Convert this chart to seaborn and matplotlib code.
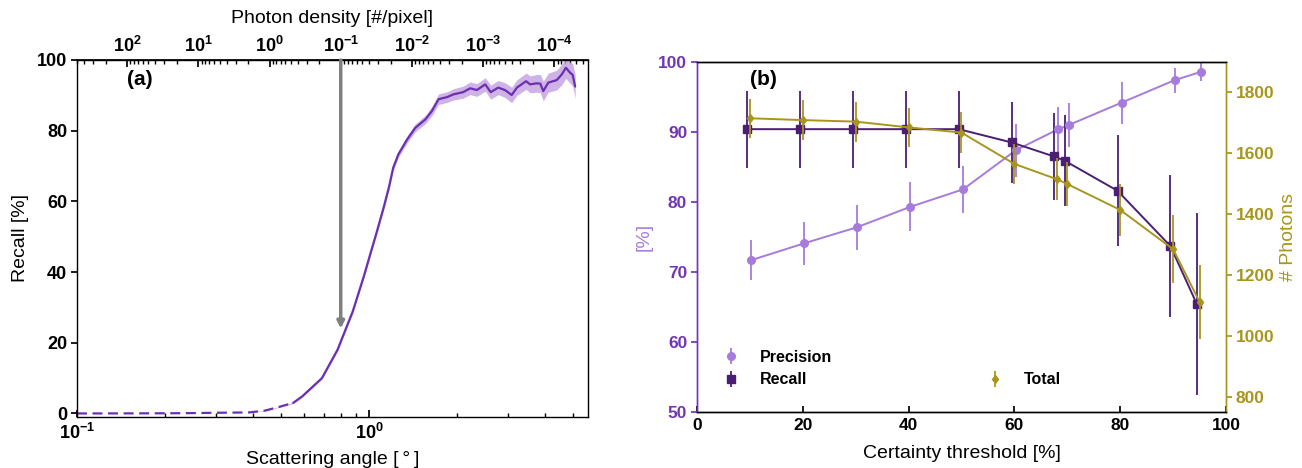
import numpy as np
import pandas as pd
import matplotlib
matplotlib.use("Agg")
import matplotlib.pyplot as plt
import seaborn as sns

# ---------------- data: panel (a) ----------------
angle = [0.10, 0.15, 0.20, 0.25, 0.30, 0.35, 0.39, 0.44, 0.49, 0.55, 0.59, 0.69, 0.78,
         0.88, 0.96, 1.02, 1.06, 1.12, 1.17, 1.21, 1.26, 1.35, 1.44, 1.56, 1.64, 1.73,
         1.85, 1.95, 2.10, 2.22, 2.34, 2.50, 2.61, 2.77, 2.92, 3.08, 3.21, 3.45, 3.56,
         3.75, 3.86, 3.95, 4.11, 4.39, 4.57, 4.72, 4.88, 4.98, 5.08]
recall_a = [0.0, 0.02, 0.05, 0.1, 0.2, 0.25, 0.3, 0.8, 1.8, 3.0, 4.8, 10.0, 18.0,
            28.9, 38.8, 46.3, 51.0, 58.0, 64.0, 69.5, 73.3, 77.5, 80.8, 83.2, 85.5, 88.9,
            89.5, 90.3, 90.9, 92.0, 91.5, 93.1, 90.9, 92.2, 91.5, 90.1, 92.2, 94.0, 93.1,
            93.4, 93.3, 91.2, 93.6, 94.3, 95.9, 97.8, 96.4, 95.8, 92.5]
recall_a_err = [0.0, 0.0, 0.0, 0.0, 0.0, 0.0, 0.0, 0.1, 0.1, 0.2, 0.2, 0.3, 0.4,
                0.5, 0.5, 0.6, 0.6, 0.7, 0.8, 0.8, 0.9, 1.0, 1.1, 1.2, 1.3, 1.5,
                1.5, 1.6, 1.7, 1.8, 1.8, 1.9, 2.0, 2.0, 2.1, 2.2, 2.2, 2.3, 2.4,
                2.5, 2.6, 2.8, 2.7, 2.8, 2.9, 3.0, 3.0, 3.2, 3.4]
dash_end = 0.55

# ---------------- data: panel (b) ----------------
threshold = [10, 20, 30, 40, 50, 60, 68, 70, 80, 90, 95]
precision = [71.7, 74.1, 76.4, 79.3, 81.8, 87.4, 90.4, 91.0, 94.2, 97.4, 98.6]
precision_err = [2.9, 3.1, 3.2, 3.5, 3.4, 3.8, 3.2, 3.2, 3.0, 1.8, 1.3]
recall_b = [90.4, 90.4, 90.4, 90.4, 90.4, 88.5, 86.5, 85.9, 81.6, 73.7, 65.4]
recall_b_err = [5.5, 5.5, 5.5, 5.5, 5.5, 5.8, 6.2, 6.5, 7.9, 10.2, 13.0]
total = [1715, 1709, 1704, 1685, 1668, 1565, 1515, 1499, 1414, 1285, 1112]
total_err = [64, 65, 66, 65, 67, 66, 70, 72, 85, 112, 122]

# ---------------- style ----------------
sns.set_theme(style="ticks")
plt.rcParams['font.family'] = ['Liberation Sans', 'DejaVu Sans']
plt.rcParams['mathtext.fontset'] = 'custom'
plt.rcParams['mathtext.rm'] = 'Liberation Sans:bold'
plt.rcParams['mathtext.bf'] = 'Liberation Sans:bold'
plt.rcParams['mathtext.it'] = 'Liberation Sans:bold'
plt.rcParams['mathtext.default'] = 'rm'
for k in ('text.color', 'axes.labelcolor', 'xtick.color', 'ytick.color', 'axes.edgecolor'):
    plt.rcParams[k] = 'black'

C_CURVE = '#6b2fb3'
C_BAND = '#c7a6e3'
C_PREC = '#a67bdc'
C_REC = '#4b1e74'
C_TOT = '#a8961c'
C_AX = '#7236b3'

TICK_A = 13
TICK_B = 12.5
LAB_FS = 14

fig = plt.figure(figsize=(13.02, 4.68), dpi=100)

# ---------------- panel (a) ----------------
ax1 = fig.add_axes([0.0591, 0.1090, 0.3925, 0.7628])
dfa = pd.DataFrame({'angle': angle, 'recall': recall_a, 'err': recall_a_err})
lo = dfa[dfa['angle'] <= dash_end]
hi = dfa[dfa['angle'] >= dash_end]
ax1.fill_between(dfa['angle'], dfa['recall'] - dfa['err'], dfa['recall'] + dfa['err'],
                 color=C_BAND, alpha=0.85, lw=0)
sns.lineplot(data=lo, x='angle', y='recall', ax=ax1, color=C_CURVE, lw=1.6,
             linestyle=(0, (4.5, 2.5)), errorbar=None)
sns.lineplot(data=hi, x='angle', y='recall', ax=ax1, color=C_CURVE, lw=1.6, errorbar=None)
ax1.set_xscale('log')
ax1.set_xlim(0.1, 5.62)
ax1.set_ylim(-1, 100)
ax1.set_yticks([0, 20, 40, 60, 80, 100])
ax1.set_xlabel('Scattering angle [\u2009°\u2009]', fontsize=LAB_FS, labelpad=6)
ax1.set_ylabel('Recall [%]', fontsize=LAB_FS, labelpad=6)
ax1.tick_params(axis='x', which='both', direction='in', labelsize=TICK_A, pad=4)
ax1.tick_params(axis='x', which='major', length=5)
ax1.tick_params(axis='x', which='minor', length=3)
ax1.tick_params(axis='y', direction='out', length=4, labelsize=TICK_A, pad=3)
for lab in ax1.get_xticklabels() + ax1.get_yticklabels():
    lab.set_fontweight('bold')
for s in ax1.spines.values():
    s.set_color('black'); s.set_linewidth(1.0)

P_EXP = 4.1
C_DENS = 0.0401
def fwd(a):
    a = np.clip(np.asarray(a, dtype=float), 1e-6, None)
    return C_DENS * np.power(a, -P_EXP)
def inv(d):
    d = np.clip(np.asarray(d, dtype=float), 1e-30, None)
    return np.power(C_DENS / d, 1.0 / P_EXP)

sec = ax1.secondary_xaxis('top', functions=(fwd, inv))
sec.set_xlabel('Photon density [#/pixel]', fontsize=LAB_FS, labelpad=9)
sec.tick_params(axis='x', which='both', direction='in', labelsize=TICK_A, pad=3)
sec.tick_params(axis='x', which='major', length=5)
sec.tick_params(axis='x', which='minor', length=3)
for lab in sec.get_xticklabels():
    lab.set_fontweight('bold')

x_arrow = float(inv(0.1))
ax1.annotate('', xy=(x_arrow, 24), xytext=(x_arrow, 100),
             arrowprops=dict(arrowstyle='-|>', color='#808080', lw=2.5, mutation_scale=10,
                             shrinkA=0, shrinkB=0))
ax1.text(0.098, 0.945, '(a)', transform=ax1.transAxes, fontsize=15, fontweight='bold',
         va='center', ha='left')

# ---------------- panel (b) ----------------
ax2 = fig.add_axes([0.5353, 0.1197, 0.4063, 0.7479])
ax3 = ax2.twinx()
dfb = pd.DataFrame({'threshold': threshold, 'precision': precision, 'precision_err': precision_err,
                    'recall': recall_b, 'recall_err': recall_b_err,
                    'total': total, 'total_err': total_err})
off_rec, off_prec = -0.5, 0.3
sns.lineplot(x=dfb['threshold'] + off_prec, y=dfb['precision'], ax=ax2, color=C_PREC, lw=1.4,
             errorbar=None)
ax2.errorbar(dfb['threshold'] + off_prec, dfb['precision'], yerr=dfb['precision_err'], fmt='o',
             color=C_PREC, ms=5.5, elinewidth=1.3, capsize=0, label='Precision')
sns.lineplot(x=dfb['threshold'] + off_rec, y=dfb['recall'], ax=ax2, color=C_REC, lw=1.4,
             errorbar=None)
ax2.errorbar(dfb['threshold'] + off_rec, dfb['recall'], yerr=dfb['recall_err'], fmt='s',
             color=C_REC, ms=5.5, elinewidth=1.3, capsize=0, label='Recall')
sns.lineplot(x=dfb['threshold'], y=dfb['total'], ax=ax3, color=C_TOT, lw=1.4, errorbar=None)
ax3.errorbar(dfb['threshold'], dfb['total'], yerr=dfb['total_err'], fmt='d',
             color=C_TOT, ms=4.5, elinewidth=1.3, capsize=0, label='Total')

ax2.set_xlim(0, 100)
ax2.set_ylim(50, 100)
ax3.set_ylim(750, 1900)
ax2.set_xticks([0, 20, 40, 60, 80, 100])
ax2.set_yticks([50, 60, 70, 80, 90, 100])
ax3.set_yticks([800, 1000, 1200, 1400, 1600, 1800])
ax2.set_xlabel('Certainty threshold [%]', fontsize=LAB_FS, labelpad=9)
ax2.set_ylabel('[%]', fontsize=LAB_FS, color=C_PREC)
ax3.set_ylabel('# Photons', fontsize=LAB_FS, color=C_TOT)
ax2.tick_params(axis='x', direction='in', length=4, labelsize=TICK_B, pad=4)
ax2.tick_params(axis='y', direction='out', length=4, labelsize=TICK_B, colors=C_AX, pad=3)
ax3.tick_params(axis='y', direction='out', length=4, labelsize=TICK_B, colors=C_TOT, pad=3)
for lab in ax2.get_xticklabels() + ax2.get_yticklabels() + ax3.get_yticklabels():
    lab.set_fontweight('bold')
for a in (ax2, ax3):
    a.spines['top'].set_color('black')
    a.spines['bottom'].set_color('black')
    a.spines['left'].set_color(C_AX)
    a.spines['right'].set_color(C_TOT)
    for s in a.spines.values():
        s.set_linewidth(1.0)

ax2.text(0.10, 0.949, '(b)', transform=ax2.transAxes, fontsize=15, fontweight='bold',
         va='center', ha='left')

h2, l2 = ax2.get_legend_handles_labels()
ax2.legend(h2, l2, loc='lower left', bbox_to_anchor=(0.013, 0.03), frameon=False,
           prop={'weight': 'bold', 'size': 11.5}, handlelength=1.6, handletextpad=1.0,
           labelspacing=0.45)
h3, l3 = ax3.get_legend_handles_labels()
ax3.legend(h3, l3, loc='lower left', bbox_to_anchor=(0.512, 0.03), frameon=False,
           prop={'weight': 'bold', 'size': 11.5}, handlelength=1.6, handletextpad=1.0)

fig.savefig('out.png', dpi=100)
